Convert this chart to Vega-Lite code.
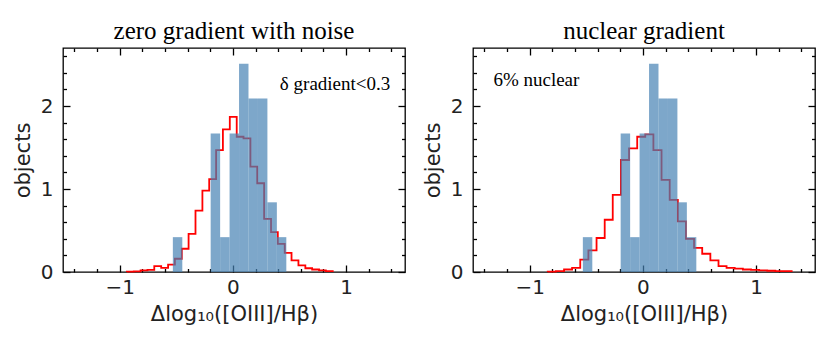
{
  "$schema": "https://vega.github.io/schema/vega-lite/v6.json",
  "padding": {"left": 11, "top": 18, "right": 5, "bottom": 5},
  "datasets": {
    "bars": [
      {"x0": -0.53, "x1": -0.4465, "h": 0.42},
      {"x0": -0.196, "x1": -0.1125, "h": 1.67},
      {"x0": -0.1125, "x1": -0.029, "h": 0.42},
      {"x0": -0.029, "x1": 0.0545, "h": 1.67},
      {"x0": 0.0545, "x1": 0.138, "h": 2.51},
      {"x0": 0.138, "x1": 0.2215, "h": 2.09},
      {"x0": 0.2215, "x1": 0.305, "h": 2.09},
      {"x0": 0.305, "x1": 0.3885, "h": 0.84},
      {"x0": 0.3885, "x1": 0.472, "h": 0.42}
    ],
    "redL": [
      {"x": -0.936, "v": 0}, {"x": -0.936, "v": 0.005}, {"x": -0.875, "v": 0.008}, {"x": -0.815, "v": 0.02},
      {"x": -0.754, "v": 0.025}, {"x": -0.694, "v": 0.07}, {"x": -0.633, "v": 0.05},
      {"x": -0.572, "v": 0.09}, {"x": -0.512, "v": 0.16}, {"x": -0.451, "v": 0.28},
      {"x": -0.391, "v": 0.46}, {"x": -0.33, "v": 0.74}, {"x": -0.269, "v": 0.98},
      {"x": -0.209, "v": 1.12}, {"x": -0.148, "v": 1.47}, {"x": -0.088, "v": 1.72},
      {"x": -0.027, "v": 1.87}, {"x": 0.034, "v": 1.63}, {"x": 0.094, "v": 1.61},
      {"x": 0.155, "v": 1.27}, {"x": 0.215, "v": 1.07}, {"x": 0.276, "v": 0.64},
      {"x": 0.337, "v": 0.48}, {"x": 0.397, "v": 0.34}, {"x": 0.458, "v": 0.23},
      {"x": 0.518, "v": 0.14}, {"x": 0.579, "v": 0.08}, {"x": 0.64, "v": 0.045},
      {"x": 0.7, "v": 0.03}, {"x": 0.761, "v": 0.02}, {"x": 0.821, "v": 0.01},
      {"x": 0.882, "v": 0}
    ],
    "redR": [
      {"x": -0.84, "v": 0}, {"x": -0.84, "v": 0.005}, {"x": -0.768, "v": 0.01}, {"x": -0.696, "v": 0.03},
      {"x": -0.625, "v": 0.05}, {"x": -0.553, "v": 0.15}, {"x": -0.481, "v": 0.26},
      {"x": -0.409, "v": 0.41}, {"x": -0.337, "v": 0.63}, {"x": -0.266, "v": 0.93},
      {"x": -0.194, "v": 1.35}, {"x": -0.122, "v": 1.49}, {"x": -0.05, "v": 1.63},
      {"x": 0.021, "v": 1.66}, {"x": 0.093, "v": 1.47}, {"x": 0.165, "v": 1.11},
      {"x": 0.237, "v": 0.87}, {"x": 0.309, "v": 0.61}, {"x": 0.38, "v": 0.4},
      {"x": 0.452, "v": 0.29}, {"x": 0.524, "v": 0.22}, {"x": 0.596, "v": 0.14},
      {"x": 0.668, "v": 0.07}, {"x": 0.739, "v": 0.05}, {"x": 0.811, "v": 0.04},
      {"x": 0.883, "v": 0.03}, {"x": 0.955, "v": 0.025}, {"x": 1.027, "v": 0.02},
      {"x": 1.098, "v": 0.015}, {"x": 1.17, "v": 0.01}, {"x": 1.242, "v": 0.01},
      {"x": 1.314, "v": 0}
    ]
  },
  "spacing": 14,
  "hconcat": [
    {
      "width": 342, "height": 224,
      "title": {"text": "zero gradient with noise", "font": "Liberation Serif", "fontSize": 25, "fontWeight": "normal", "color": "#000", "offset": 3},
      "resolve": {"axis": {"x": "independent", "y": "independent"}},
      "layer": [
        {
          "data": {"name": "redL"},
          "mark": {"type": "line", "interpolate": "step-after", "color": "#ff0000", "strokeWidth": 1.8},
          "encoding": {
            "x": {"field": "x", "type": "quantitative", "scale": {"domain": [-1.5, 1.52], "nice": false, "zero": false},
              "axis": {"orient": "top", "labels": false, "title": null, "values": [-1.4,-1.2,-1,-0.8,-0.6,-0.4,-0.2,0,0.2,0.4,0.6,0.8,1,1.2,1.4],
                "tickSize": {"condition": {"test": "abs(datum.value - round(datum.value)) < 0.001", "value": -7}, "value": -3.5}}},
            "y": {"field": "v", "type": "quantitative", "scale": {"domain": [0, 2.7], "nice": false},
              "axis": {"orient": "right", "labels": false, "title": null, "values": [0,0.2,0.4,0.6,0.8,1,1.2,1.4,1.6,1.8,2,2.2,2.4,2.6],
                "tickSize": {"condition": {"test": "abs(datum.value - round(datum.value)) < 0.001", "value": -7}, "value": -3.5}}}
          }
        },
        {
          "data": {"name": "bars"},
          "mark": {"type": "rect", "color": "#4682b4", "opacity": 0.7},
          "encoding": {
            "x": {"field": "x0", "type": "quantitative", "scale": {"domain": [-1.5, 1.52], "nice": false, "zero": false},
              "axis": {"orient": "bottom", "title": "Δlog₁₀([OIII]/Hβ)", "values": [-1.4,-1.2,-1,-0.8,-0.6,-0.4,-0.2,0,0.2,0.4,0.6,0.8,1,1.2,1.4],
                "labelExpr": "abs(datum.value - round(datum.value)) < 0.001 ? (round(datum.value) < 0 ? '−' + (-round(datum.value)) : '' + round(datum.value)) : ''",
                "labelPadding": 12, "titlePadding": 6,
                "tickSize": {"condition": {"test": "abs(datum.value - round(datum.value)) < 0.001", "value": -7}, "value": -3.5}}},
            "x2": {"field": "x1"},
            "y": {"field": "h", "type": "quantitative", "scale": {"domain": [0, 2.7], "nice": false},
              "axis": {"orient": "left", "title": "objects", "values": [0,0.2,0.4,0.6,0.8,1,1.2,1.4,1.6,1.8,2,2.2,2.4,2.6],
                "labelExpr": "abs(datum.value - round(datum.value)) < 0.001 ? '' + round(datum.value) : ''",
                "labelPadding": 17, "titlePadding": 7,
                "tickSize": {"condition": {"test": "abs(datum.value - round(datum.value)) < 0.001", "value": -7}, "value": -3.5}}},
            "y2": {"datum": 0}
          }
        },
        {
          "data": {"values": [{"t": "δ gradient<0.3"}]},
          "mark": {"type": "text", "font": "Liberation Serif", "fontSize": 19, "align": "right", "baseline": "middle", "color": "#000"},
          "encoding": {
            "x": {"datum": 1.39, "type": "quantitative", "axis": null},
            "y": {"datum": 2.27, "type": "quantitative", "axis": null},
            "text": {"field": "t"}
          }
        }
      ]
    },
    {
      "width": 342, "height": 224,
      "title": {"text": "nuclear gradient", "font": "Liberation Serif", "fontSize": 25, "fontWeight": "normal", "color": "#000", "offset": 3},
      "resolve": {"axis": {"x": "independent", "y": "independent"}},
      "layer": [
        {
          "data": {"name": "redR"},
          "mark": {"type": "line", "interpolate": "step-after", "color": "#ff0000", "strokeWidth": 1.8},
          "encoding": {
            "x": {"field": "x", "type": "quantitative", "scale": {"domain": [-1.5, 1.52], "nice": false, "zero": false},
              "axis": {"orient": "top", "labels": false, "title": null, "values": [-1.4,-1.2,-1,-0.8,-0.6,-0.4,-0.2,0,0.2,0.4,0.6,0.8,1,1.2,1.4],
                "tickSize": {"condition": {"test": "abs(datum.value - round(datum.value)) < 0.001", "value": -7}, "value": -3.5}}},
            "y": {"field": "v", "type": "quantitative", "scale": {"domain": [0, 2.7], "nice": false},
              "axis": {"orient": "right", "labels": false, "title": null, "values": [0,0.2,0.4,0.6,0.8,1,1.2,1.4,1.6,1.8,2,2.2,2.4,2.6],
                "tickSize": {"condition": {"test": "abs(datum.value - round(datum.value)) < 0.001", "value": -7}, "value": -3.5}}}
          }
        },
        {
          "data": {"name": "bars"},
          "mark": {"type": "rect", "color": "#4682b4", "opacity": 0.7},
          "encoding": {
            "x": {"field": "x0", "type": "quantitative", "scale": {"domain": [-1.5, 1.52], "nice": false, "zero": false},
              "axis": {"orient": "bottom", "title": "Δlog₁₀([OIII]/Hβ)", "values": [-1.4,-1.2,-1,-0.8,-0.6,-0.4,-0.2,0,0.2,0.4,0.6,0.8,1,1.2,1.4],
                "labelExpr": "abs(datum.value - round(datum.value)) < 0.001 ? (round(datum.value) < 0 ? '−' + (-round(datum.value)) : '' + round(datum.value)) : ''",
                "labelPadding": 12, "titlePadding": 6,
                "tickSize": {"condition": {"test": "abs(datum.value - round(datum.value)) < 0.001", "value": -7}, "value": -3.5}}},
            "x2": {"field": "x1"},
            "y": {"field": "h", "type": "quantitative", "scale": {"domain": [0, 2.7], "nice": false},
              "axis": {"orient": "left", "title": "objects", "values": [0,0.2,0.4,0.6,0.8,1,1.2,1.4,1.6,1.8,2,2.2,2.4,2.6],
                "labelExpr": "abs(datum.value - round(datum.value)) < 0.001 ? '' + round(datum.value) : ''",
                "labelPadding": 17, "titlePadding": 7,
                "tickSize": {"condition": {"test": "abs(datum.value - round(datum.value)) < 0.001", "value": -7}, "value": -3.5}}},
            "y2": {"datum": 0}
          }
        },
        {
          "data": {"values": [{"t": "6% nuclear"}]},
          "mark": {"type": "text", "font": "Liberation Serif", "fontSize": 19, "align": "left", "baseline": "middle", "color": "#000"},
          "encoding": {
            "x": {"datum": -1.32, "type": "quantitative", "axis": null},
            "y": {"datum": 2.32, "type": "quantitative", "axis": null},
            "text": {"field": "t"}
          }
        }
      ]
    }
  ],
  "config": {
    "view": {"stroke": "#000", "strokeWidth": 1.3},
    "axis": {
      "domain": false, "grid": false, "tickColor": "#000", "tickWidth": 1.3,
      "labelFont": "DejaVu Sans", "labelFontSize": 20, "labelColor": "#222",
      "titleFont": "DejaVu Sans", "titleFontSize": 21, "titleFontWeight": "normal", "titleColor": "#222"
    }
  }
}
